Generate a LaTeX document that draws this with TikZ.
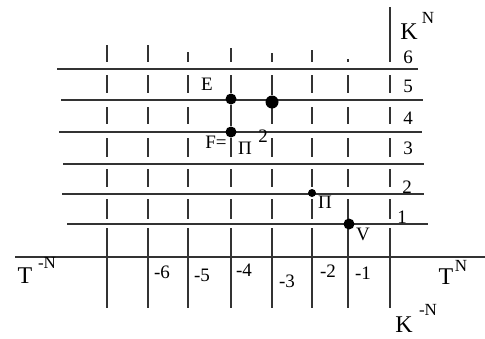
\documentclass[tikz,border=0pt]{standalone}
\usepackage{fontspec}
\setmainfont{Liberation Serif}

\begin{document}
\begin{tikzpicture}[x=1pt,y=-1pt,
  grid/.style={draw=black!80,line width=1.3pt},
  dot/.style={circle,fill=black,inner sep=0pt,minimum size=#1},
  lab/.style={inner sep=0pt,font=\fontsize{19}{21}\selectfont},
  axlab/.style={inner sep=0pt,font=\fontsize{24}{27}\selectfont},
  suplab/.style={inner sep=0pt,font=\fontsize{17}{19}\selectfont}]
\useasboundingbox (0,0) rectangle (485,338);

% horizontal lines K^1 ... K^6
\draw[grid] (57,69) -- (418,69);
\draw[grid] (61,100) -- (423,100);
\draw[grid] (59,132) -- (422,132);
\draw[grid] (63,164) -- (424,164);
\draw[grid] (62,194) -- (424,194);
\draw[grid] (67,224) -- (428,224);
% the T axis
\draw[grid] (15,257) -- (485,257);

% broken vertical lines
\foreach \x/\t in {107/45,148/45,188/52,231/48,272/53,312/50,348/59,390/7}
  \draw[grid] (\x,\t) -- (\x,62);
\foreach \x in {107,148,188,231,272,312,348,390} {
  \foreach \a/\b in {75/93,107/124,138/157,169/187,199/219}
    \draw[grid] (\x,\a) -- (\x,\b);
  \draw[grid] (\x,228) -- (\x,308);
}

% points
\node[dot=11pt] (dE) at (231,99) {};
\node[dot=13pt] (dM) at (272,102) {};
\node[dot=11pt] (dF) at (231,132) {};
\node[dot=8pt] (dP) at (312,193) {};
\node[dot=11pt] (dV) at (349,224) {};
\draw[grid] (231,75) -- (dE) -- (dF);
\draw[grid] (272,75) -- (dM) -- (272,124);

\node[lab] (lE) at (207,84) {E};
\node[lab] (lF) at (216,142) {F=};
\node[lab] (lF2) at (245,148) {Π};
\node[lab] (lF3) at (263,136) {2};
\node[lab] (lP) at (325,202) {Π};
\node[lab] (lV) at (363,234) {V};

% levels
\node[lab] (k6) at (408,57) {6};
\node[lab] (k5) at (408,86) {5};
\node[lab] (k4) at (408,118) {4};
\node[lab] (k3) at (408,148) {3};
\node[lab] (k2) at (407,187) {2};
\node[lab] (k1) at (402,217) {1};

% times
\node[lab] (t6) at (162,272) {-6};
\node[lab] (t5) at (202,275) {-5};
\node[lab] (t4) at (244,270) {-4};
\node[lab] (t3) at (287,281) {-3};
\node[lab] (t2) at (328,271) {-2};
\node[lab] (t1) at (363,273) {-1};

% axis names
\node[axlab] (KN) at (409,32) {K};
\node[suplab] (KNs) at (428,18) {N};
\node[axlab] (TmN) at (25,276) {T};
\node[suplab] (TmNs) at (47,263) {-N};
\node[axlab] (TN) at (446,277) {T};
\node[suplab] (TNs) at (461,266) {N};
\node[axlab] (KmN) at (404,325) {K};
\node[suplab] (KmNs) at (428,310) {-N};
\end{tikzpicture}
\end{document}
